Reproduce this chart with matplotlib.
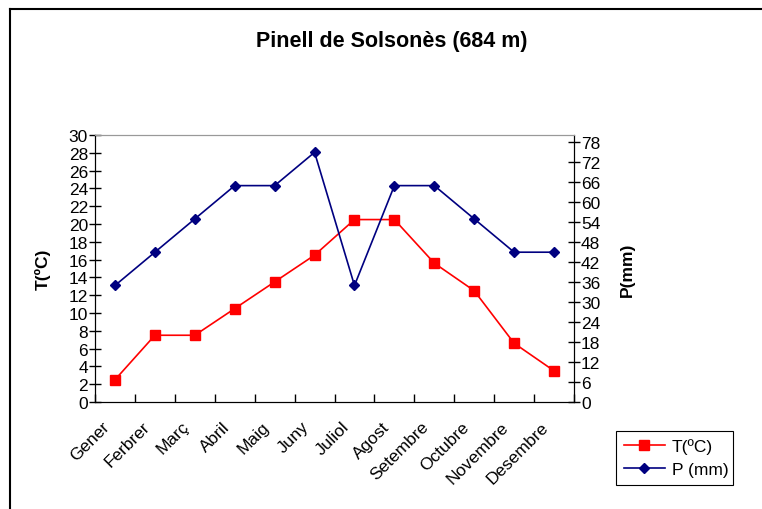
# Climograma Pinell de Solsonès: temperatura (eix esquerre) i precipitació (eix dret)

import numpy as np
import matplotlib
matplotlib.use("Agg")
import matplotlib.pyplot as plt
import matplotlib.transforms as mtransforms
from matplotlib.lines import Line2D

plt.rcParams['font.family'] = ['Liberation Sans', 'DejaVu Sans']

# ---- dades ----
mesos = ["Gener", "Ferbrer", "Març", "Abril", "Maig", "Juny", "Juliol",
         "Agost", "Setembre", "Octubre", "Novembre", "Desembre"]
temp = [2.5, 7.5, 7.5, 10.5, 13.5, 16.5, 20.5, 20.5, 15.6, 12.5, 6.6, 3.5]
prec = [35, 45, 55, 65, 65, 75, 35, 65, 65, 55, 45, 45]
t_ticks = list(range(0, 31, 2))
p_ticks = list(range(0, 79, 6))
# ---------------

FS = 12.5

fig = plt.figure(figsize=(7.62, 5.10), dpi=100)
ax = fig.add_axes([0.1247, 0.2098, 0.6286, 0.5235])
ax2 = ax.twinx()

x = np.arange(len(mesos))
l1, = ax.plot(x, temp, color="#ff0000", lw=1.2, marker="s", ms=6.5,
              label="T(ºC)", zorder=3)
l2, = ax2.plot(x, prec, color="#000080", lw=1.2, marker="D", ms=5.5,
               label="P (mm)", zorder=3)

ax.set_xlim(-0.5, len(mesos) - 0.5)
ax.set_ylim(0, 30)
ax2.set_ylim(0, 80.2)
ax.set_yticks(t_ticks)
ax2.set_yticks(p_ticks)

ax.set_xticks(x)
ax.set_xticklabels(mesos, rotation=45, ha="right", rotation_mode="anchor",
                   fontsize=FS)
ax.tick_params(axis="x", which="major", length=0, pad=9)
ax.set_xticks(np.arange(-0.5, len(mesos), 1), minor=True)
ax.tick_params(axis="x", which="minor", direction="in", length=6, width=1)
# desplaçar les etiquetes a l'esquerra i una mica avall
shift = mtransforms.ScaledTranslation(-13 / 100, -4 / 100, fig.dpi_scale_trans)
for lab in ax.get_xticklabels():
    lab.set_transform(lab.get_transform() + shift)

ax.tick_params(axis="y", direction="inout", length=8, width=1,
               labelsize=FS, pad=1)
ax2.tick_params(axis="y", direction="inout", length=8, width=1,
                labelsize=FS, pad=1)

for a in (ax, ax2):
    a.spines["top"].set_color("#999999")
    a.spines["left"].set_color("black")
    a.spines["right"].set_color("black")
    a.spines["bottom"].set_color("black")

ax.set_ylabel("T(ºC)", fontsize=FS, fontweight="bold", labelpad=13)
ax2.set_ylabel("P(mm)", fontsize=FS, fontweight="bold", labelpad=14)

fig.text(0.514, 0.918, "Pinell de Solsonès (684 m)", ha="center", va="center",
         fontsize=15.5, fontweight="bold")

leg = fig.legend(handles=[l1, l2], loc="lower left",
                 bbox_to_anchor=(0.808, 0.047, 0.154, 0.122), mode="expand",
                 fontsize=FS, frameon=True, fancybox=False, framealpha=1,
                 edgecolor="black", handlelength=2.4, handletextpad=0.4,
                 borderaxespad=0, labelspacing=0.45, borderpad=0.45)
leg.get_frame().set_linewidth(0.8)

# marc del gràfic (només dalt i esquerra visibles)
fig.add_artist(Line2D([10 / 762, 1], [1 - 10 / 510, 1 - 10 / 510],
                      transform=fig.transFigure, color="black", lw=1.5))
fig.add_artist(Line2D([10 / 762, 10 / 762], [0, 1 - 10 / 510],
                      transform=fig.transFigure, color="black", lw=1.5))

fig.savefig("out.png", dpi=100)
